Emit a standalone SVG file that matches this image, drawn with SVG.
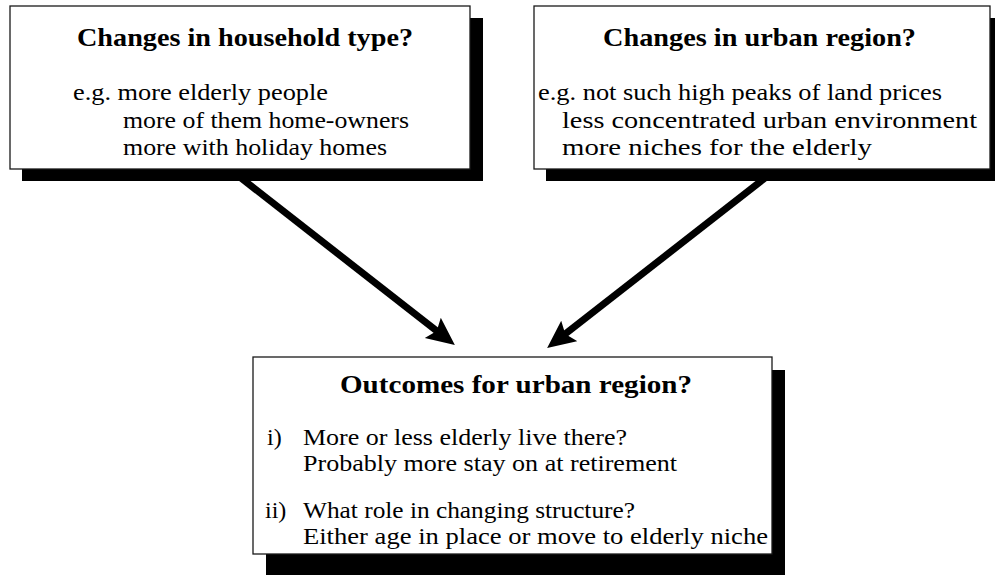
<svg xmlns="http://www.w3.org/2000/svg" width="995" height="575" viewBox="0 0 995 575">
  <style>
    .shadow { fill: #000; }
    .box { fill: #fff; stroke: #1a1a1a; stroke-width: 1.3; }
    .title { font-family: "Liberation Serif", "Times New Roman", serif; font-size: 25px; font-weight: bold; fill: #000; }
    .body { font-family: "Liberation Serif", "Times New Roman", serif; font-size: 24px; fill: #000; }
    .conn { stroke: #000; stroke-width: 7; fill: none; }
  </style>
  <defs>
    <marker id="arrowhead" markerUnits="userSpaceOnUse" markerWidth="32" markerHeight="32" viewBox="0 0 32 32" refX="8" refY="14" orient="auto">
      <path d="M0,1 L28,14 L0,27 L5,14 Z" fill="#000"/>
    </marker>
  </defs>
  <rect width="995" height="575" fill="#fff"/>

  <g id="connectors">
    <line class="conn" x1="241" y1="178" x2="439.1" y2="332.8" marker-end="url(#arrowhead)"/>
    <line class="conn" x1="765" y1="178" x2="562.9" y2="335.8" marker-end="url(#arrowhead)"/>
  </g>

  <g id="household">
    <rect class="shadow" x="22" y="18" width="461" height="163"/>
    <rect class="box" x="10" y="6" width="460" height="163"/>
    <text class="title" x="77" y="46" textLength="336" lengthAdjust="spacingAndGlyphs">Changes in household type?</text>
    <text class="body" x="73" y="100" textLength="255" lengthAdjust="spacingAndGlyphs">e.g. more elderly people</text>
    <text class="body" x="123" y="128" textLength="286" lengthAdjust="spacingAndGlyphs">more of them home-owners</text>
    <text class="body" x="123" y="155" textLength="264" lengthAdjust="spacingAndGlyphs">more with holiday homes</text>
  </g>

  <g id="urban">
    <rect class="shadow" x="546" y="18" width="460" height="163"/>
    <rect class="box" x="534" y="6" width="456" height="163"/>
    <text class="title" x="603" y="46" textLength="313" lengthAdjust="spacingAndGlyphs">Changes in urban region?</text>
    <text class="body" x="538" y="100" textLength="404" lengthAdjust="spacingAndGlyphs">e.g. not such high peaks of land prices</text>
    <text class="body" x="562" y="128" textLength="415" lengthAdjust="spacingAndGlyphs">less concentrated urban environment</text>
    <text class="body" x="562" y="155" textLength="310" lengthAdjust="spacingAndGlyphs">more niches for the elderly</text>
  </g>

  <g id="outcomes">
    <rect class="shadow" x="266" y="370" width="519" height="210"/>
    <rect class="box" x="253" y="357" width="519" height="197"/>
    <text class="title" x="340" y="393" textLength="352" lengthAdjust="spacingAndGlyphs">Outcomes for urban region?</text>
    <text class="body" x="267" y="445">i)</text>
    <text class="body" x="303" y="445" textLength="324" lengthAdjust="spacingAndGlyphs">More or less elderly live there?</text>
    <text class="body" x="303" y="471" textLength="374" lengthAdjust="spacingAndGlyphs">Probably more stay on at retirement</text>
    <text class="body" x="265" y="518">ii)</text>
    <text class="body" x="303" y="518" textLength="332" lengthAdjust="spacingAndGlyphs">What role in changing structure?</text>
    <text class="body" x="303" y="544" textLength="465" lengthAdjust="spacingAndGlyphs">Either age in place or move to elderly niche</text>
  </g>
</svg>
